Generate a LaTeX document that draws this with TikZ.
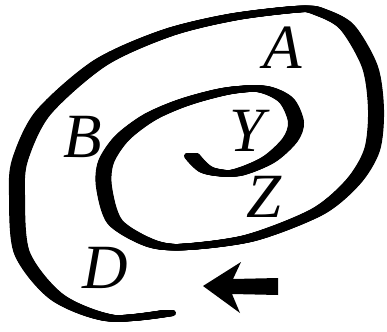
\documentclass[tikz,border=0pt]{standalone}
\usepackage{fontspec}
\setmainfont{Liberation Serif}

\begin{document}
\begin{tikzpicture}[
  x=1pt, y=-1pt,
  pen/.style={line width=6pt, line cap=round, line join=round},
  letter/.style={inner sep=0pt, font=\fontsize{63}{63}\selectfont\itshape}
]
  \useasboundingbox (0,0) rectangle (387,331);

  % spiral, drawn with a flat nib
  \foreach \dx in {-5,-4.5,...,5}
    \draw[pen, shift={(\dx,0)}] plot[smooth] coordinates {
      (192,156) (207,170) (235,173) (268,160) (290,140) (296,122)
      (286,100) (262,89) (227,91) (185,102) (150,117) (122,138)
      (106,162) (104,187) (115,222) (150,243) (183,247) (250,238)
      (317,212) (353,182) (372,150) (376,110) (370,67) (347,27)
      (320,12) (300,9) (233,17) (167,33) (100,63) (43,113)
      (20,160) (17,195) (22,253) (57,297) (110,318) (168,313)};

  % labels
  \node[letter] (A) at (283,48) {A};
  \node[letter] (B) at (83,137) {B};
  \node[letter] (Y) at (247,131) {Y};
  \node[letter] (Z) at (264,197) {Z};
  \node[letter] (D) at (105,268) {D};

  % direction arrow
  \fill (203,286) -- (241,262) -- (233,279) -- (278,278)
        -- (278,295) -- (232,294) -- (240,313) -- cycle;
\end{tikzpicture}
\end{document}
